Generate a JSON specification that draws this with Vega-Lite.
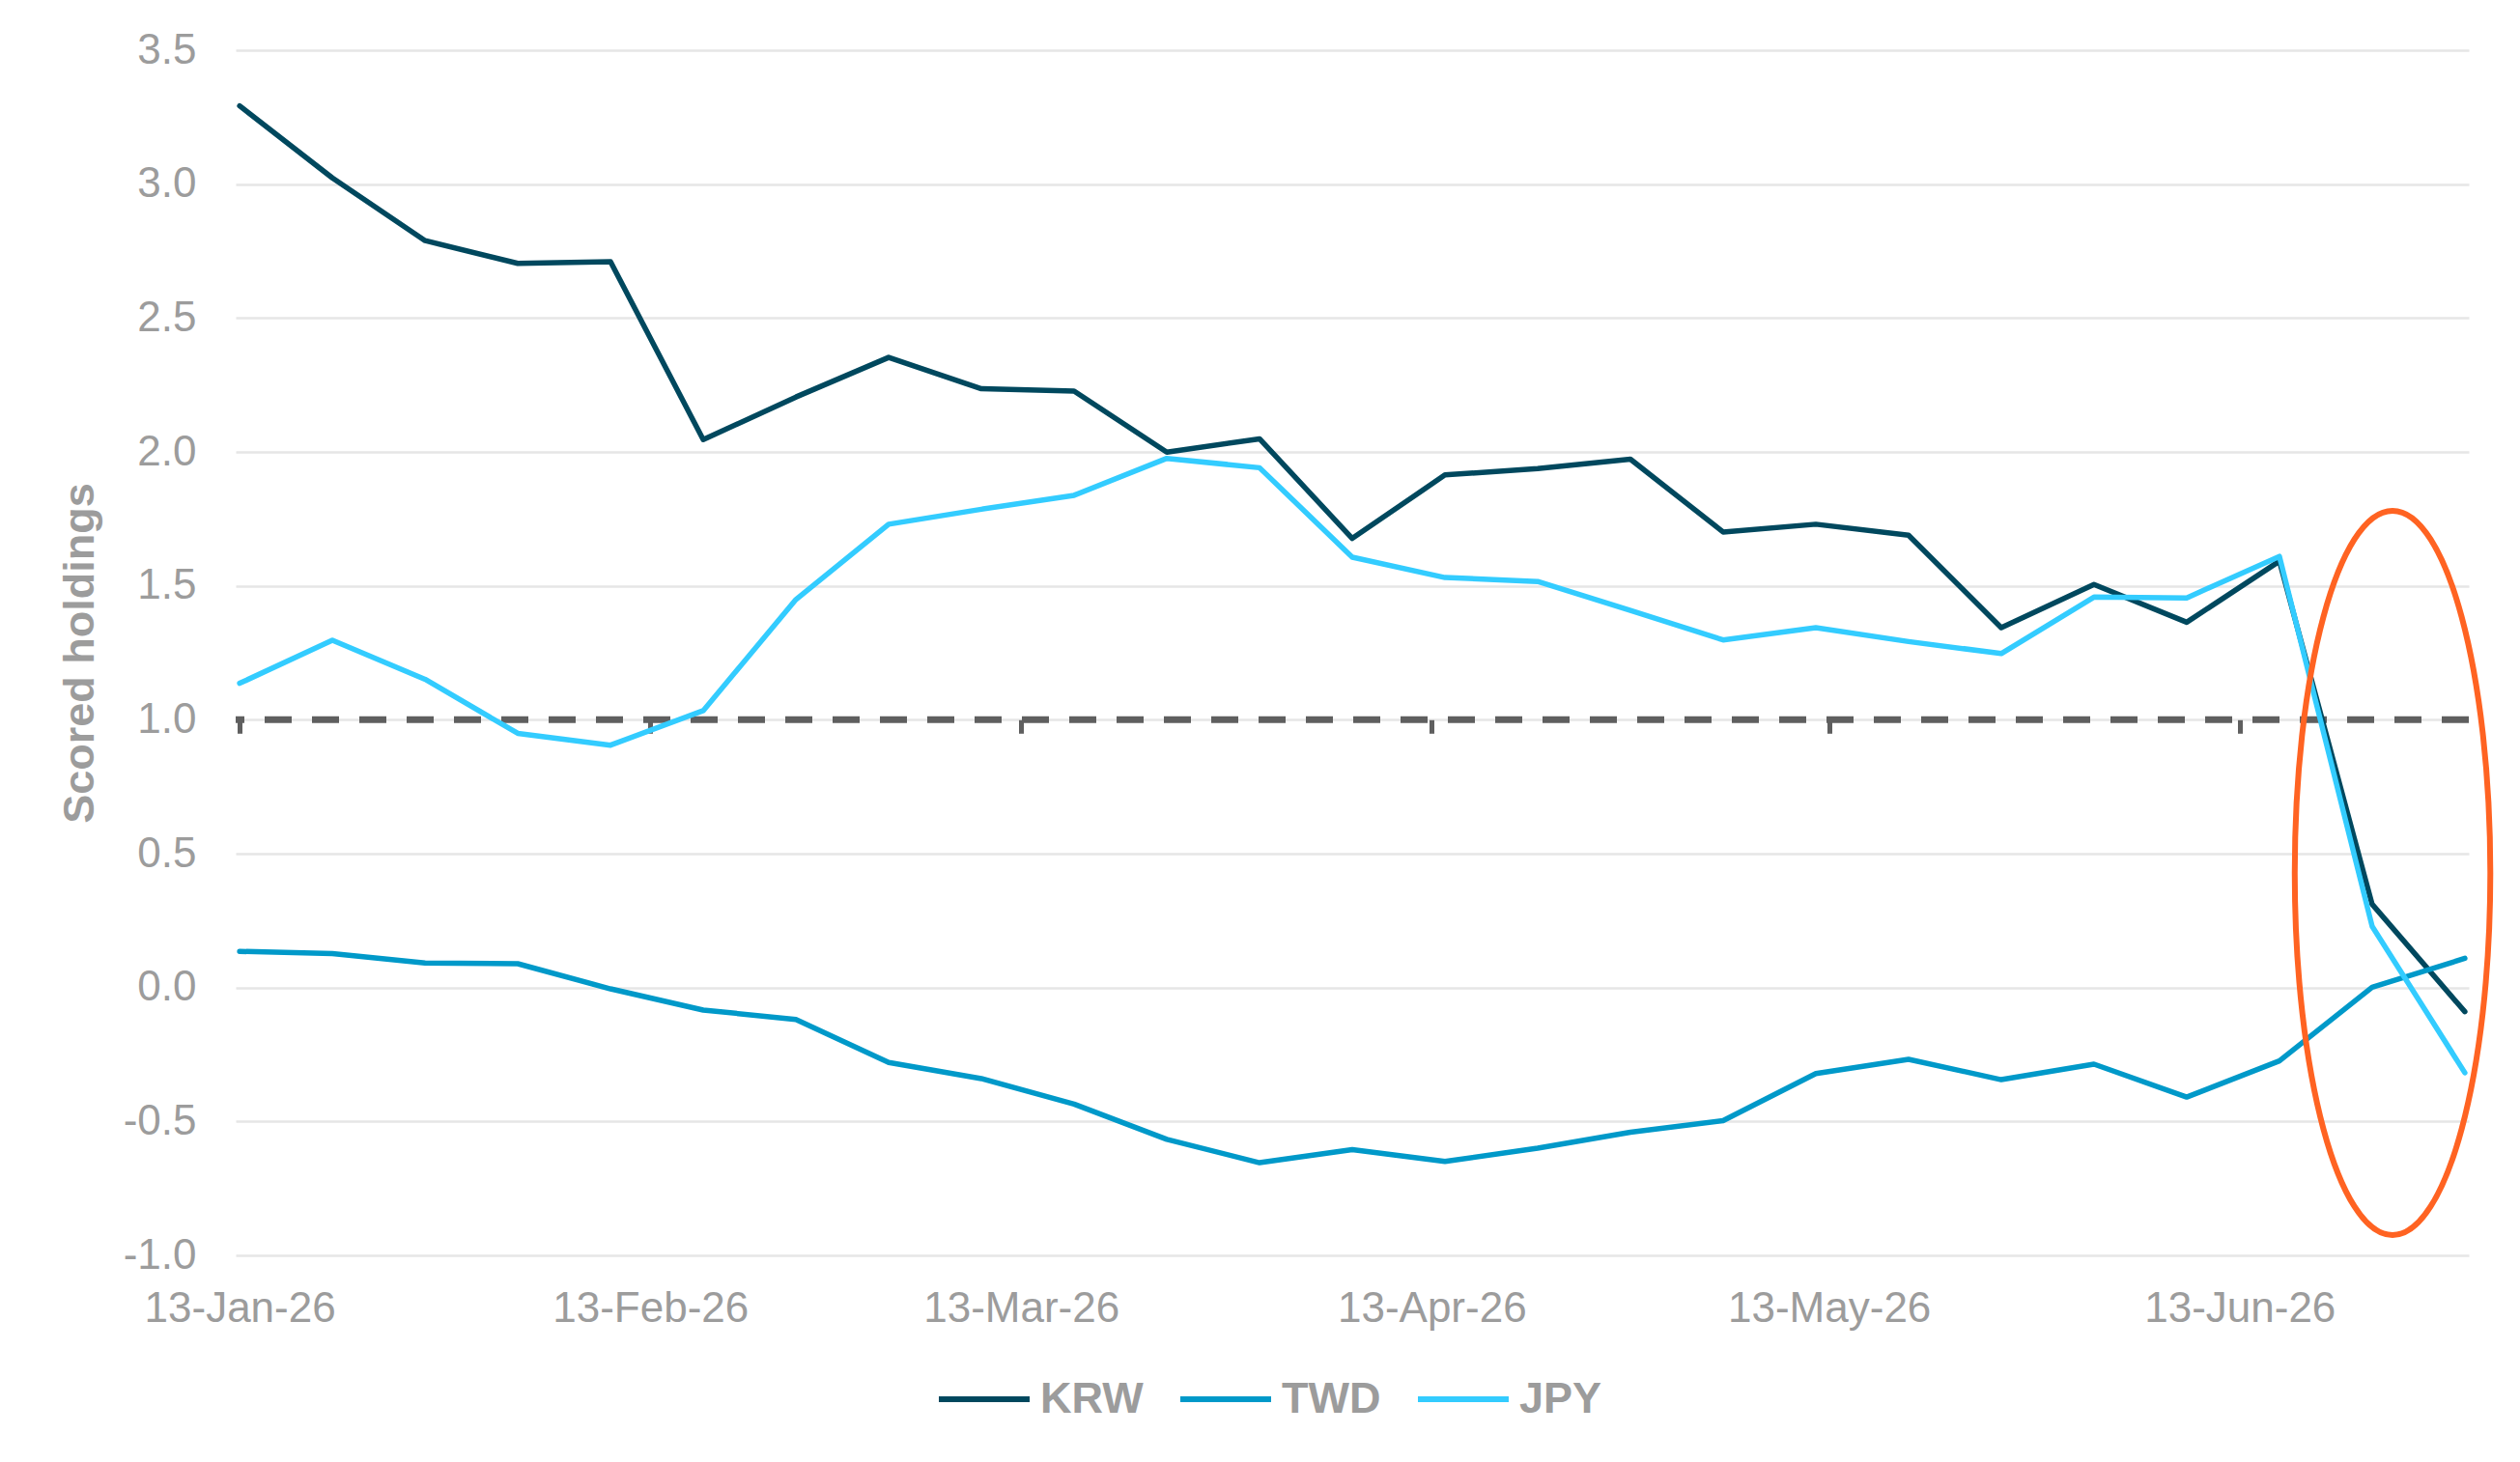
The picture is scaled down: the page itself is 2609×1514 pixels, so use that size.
{
  "$schema": "https://vega.github.io/schema/vega-lite/v6.json",
  "width": 2312,
  "height": 1248,
  "autosize": {"type": "none"},
  "padding": {"left": 244, "top": 52, "right": 53, "bottom": 214},
  "background": "white",
  "config": {
    "view": {"stroke": null},
    "font": "Liberation Sans"
  },
  "data": {
    "values": [
      {"date": "2026-01-13", "KRW": 3.292, "TWD": 0.135, "JPY": 1.136},
      {"date": "2026-01-20", "KRW": 3.023, "TWD": 0.127, "JPY": 1.297},
      {"date": "2026-01-27", "KRW": 2.789, "TWD": 0.092, "JPY": 1.151},
      {"date": "2026-02-03", "KRW": 2.704, "TWD": 0.089, "JPY": 0.949},
      {"date": "2026-02-10", "KRW": 2.710, "TWD": -0.005, "JPY": 0.905},
      {"date": "2026-02-17", "KRW": 2.046, "TWD": -0.084, "JPY": 1.034},
      {"date": "2026-02-24", "KRW": 2.205, "TWD": -0.119, "JPY": 1.449},
      {"date": "2026-03-03", "KRW": 2.353, "TWD": -0.280, "JPY": 1.730},
      {"date": "2026-03-10", "KRW": 2.236, "TWD": -0.340, "JPY": 1.786},
      {"date": "2026-03-17", "KRW": 2.227, "TWD": -0.435, "JPY": 1.838},
      {"date": "2026-03-24", "KRW": 1.999, "TWD": -0.567, "JPY": 1.976},
      {"date": "2026-03-31", "KRW": 2.049, "TWD": -0.654, "JPY": 1.941},
      {"date": "2026-04-07", "KRW": 1.677, "TWD": -0.605, "JPY": 1.607},
      {"date": "2026-04-14", "KRW": 1.914, "TWD": -0.649, "JPY": 1.531},
      {"date": "2026-04-21", "KRW": 1.938, "TWD": -0.600, "JPY": 1.516},
      {"date": "2026-04-28", "KRW": 1.973, "TWD": -0.540, "JPY": 1.408},
      {"date": "2026-05-05", "KRW": 1.701, "TWD": -0.497, "JPY": 1.298},
      {"date": "2026-05-12", "KRW": 1.730, "TWD": -0.321, "JPY": 1.344},
      {"date": "2026-05-19", "KRW": 1.689, "TWD": -0.268, "JPY": 1.292},
      {"date": "2026-05-26", "KRW": 1.344, "TWD": -0.344, "JPY": 1.247},
      {"date": "2026-06-02", "KRW": 1.505, "TWD": -0.286, "JPY": 1.458},
      {"date": "2026-06-09", "KRW": 1.364, "TWD": -0.409, "JPY": 1.455},
      {"date": "2026-06-16", "KRW": 1.592, "TWD": -0.274, "JPY": 1.610},
      {"date": "2026-06-23", "KRW": 0.311, "TWD": 0.001, "JPY": 0.229},
      {"date": "2026-06-30", "KRW": -0.090, "TWD": 0.109, "JPY": -0.318}
    ]
  },
  "layer": [
    {
      "data": {"values": [{"level": 1}]},
      "mark": {"type": "rule", "color": "#5f5f5f", "strokeWidth": 7, "strokeDash": [28, 21]},
      "encoding": {
        "y": {"field": "level", "type": "quantitative", "scale": {"domain": [-1, 3.5], "nice": false, "zero": false}}
      }
    },
    {
      "transform": [{"fold": ["KRW", "TWD", "JPY"], "as": ["ccy", "value"]}],
      "mark": {"type": "line", "strokeWidth": 5.5, "strokeJoin": "round", "strokeCap": "round"},
      "encoding": {
        "x": {
          "field": "date",
          "type": "temporal",
          "scale": {
            "type": "utc",
            "domain": [
              {"year": 2026, "month": 1, "date": 12, "hours": 16, "minutes": 48, "utc": true},
              {"year": 2026, "month": 6, "date": 30, "hours": 7, "minutes": 12, "utc": true}
            ]
          },
          "axis": {
            "values": [
              {"year": 2026, "month": 1, "date": 13, "utc": true},
              {"year": 2026, "month": 2, "date": 13, "utc": true},
              {"year": 2026, "month": 3, "date": 13, "utc": true},
              {"year": 2026, "month": 4, "date": 13, "utc": true},
              {"year": 2026, "month": 5, "date": 13, "utc": true},
              {"year": 2026, "month": 6, "date": 13, "utc": true}
            ],
            "format": "%d-%b-%y",
            "labelFontSize": 44,
            "labelColor": "#9c9c9c",
            "labelPadding": 33,
            "labelLimit": 0,
            "labelOverlap": false,
            "labelFlush": false,
            "ticks": false,
            "domain": false,
            "grid": false,
            "title": null
          }
        },
        "y": {
          "field": "value",
          "type": "quantitative",
          "scale": {"domain": [-1, 3.5], "nice": false, "zero": false},
          "axis": {
            "values": [-1, -0.5, 0, 0.5, 1, 1.5, 2, 2.5, 3, 3.5],
            "labelExpr": "replace(format(datum.value, '.1f'), '\u2212', '-')",
            "labelFontSize": 44,
            "labelColor": "#9c9c9c",
            "labelPadding": 41,
            "ticks": false,
            "domain": false,
            "grid": true,
            "gridColor": "#e6e6e6",
            "gridWidth": 2.5,
            "title": "Scored holdings",
            "titleFontSize": 45,
            "titleFontWeight": "bold",
            "titleColor": "#9c9c9c",
            "titlePadding": 22
          }
        },
        "color": {
          "field": "ccy",
          "type": "nominal",
          "sort": ["KRW", "TWD", "JPY"],
          "scale": {"domain": ["KRW", "TWD", "JPY"], "range": ["#00485e", "#0099c9", "#33ccff"]},
          "legend": {
            "orient": "none",
            "legendX": 725,
            "legendY": 1347,
            "padding": 0,
            "direction": "horizontal",
            "title": null,
            "symbolType": "stroke",
            "symbolSize": 8836,
            "symbolStrokeWidth": 6,
            "labelFontSize": 45,
            "labelFontWeight": "bold",
            "labelColor": "#9c9c9c",
            "labelOffset": 8,
            "columnPadding": 26
          }
        }
      }
    },
    {
      "data": {"values": [{"date": "2026-06-24T13:00:00Z", "value": 0.428}]},
      "mark": {
        "type": "point",
        "shape": "M0,-1C0.149,-1,0.27,-0.552,0.27,0C0.27,0.552,0.149,1,0,1C-0.149,1,-0.27,0.552,-0.27,0C-0.27,-0.552,-0.149,-1,0,-1Z",
        "size": 562500,
        "filled": false,
        "stroke": "#ff6322",
        "strokeWidth": 6,
        "opacity": 1
      },
      "encoding": {
        "x": {
          "field": "date",
          "type": "temporal",
          "scale": {
            "type": "utc",
            "domain": [
              {"year": 2026, "month": 1, "date": 12, "hours": 16, "minutes": 48, "utc": true},
              {"year": 2026, "month": 6, "date": 30, "hours": 7, "minutes": 12, "utc": true}
            ]
          },
          "axis": {
            "orient": "bottom",
            "offset": -554.7,
            "values": [
              {"year": 2026, "month": 1, "date": 13, "utc": true},
              {"year": 2026, "month": 2, "date": 13, "utc": true},
              {"year": 2026, "month": 3, "date": 13, "utc": true},
              {"year": 2026, "month": 4, "date": 13, "utc": true},
              {"year": 2026, "month": 5, "date": 13, "utc": true},
              {"year": 2026, "month": 6, "date": 13, "utc": true}
            ],
            "labels": false,
            "domain": false,
            "grid": false,
            "ticks": true,
            "tickSize": 14,
            "tickWidth": 5,
            "tickColor": "#5f5f5f",
            "title": null
          }
        },
        "y": {"field": "value", "type": "quantitative", "scale": {"domain": [-1, 3.5], "nice": false, "zero": false}}
      }
    }
  ],
  "resolve": {"axis": {"x": "independent"}}
}
